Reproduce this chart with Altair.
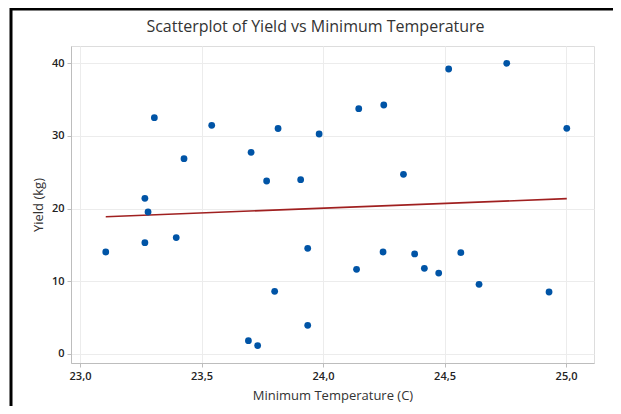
import altair as alt
import pandas as pd

min_temp = [23.106, 23.306, 23.267, 23.280, 23.267, 23.396, 23.428, 23.542,
            23.704, 23.768, 23.815, 23.908, 23.984, 23.937, 23.801, 23.937,
            23.693, 23.731, 24.147, 24.250, 24.517, 24.756, 25.003, 24.331,
            24.138, 24.247, 24.377, 24.417, 24.476, 24.567, 24.642, 24.930]
yield_kg = [14.02, 32.48, 21.4, 19.52, 15.3, 16.0, 26.85, 31.43,
            27.72, 23.78, 31.0, 23.96, 30.24, 14.53, 8.61, 3.94,
            1.83, 1.15, 33.72, 34.23, 39.18, 39.96, 31.02, 24.7,
            11.64, 14.02, 13.75, 11.78, 11.13, 13.93, 9.58, 8.52]
x_ticks = [23.0, 23.5, 24.0, 24.5, 25.0]
y_ticks = [0, 10, 20, 30, 40]
title_text = "Scatterplot of Yield vs Minimum Temperature"

df = pd.DataFrame({"temp": min_temp, "yield": yield_kg})

W, H = 523, 317
FONT = "Open Sans"

xs = alt.Scale(domain=[22.963, 25.115], nice=False, zero=False)
ys = alt.Scale(domain=[-1.24, 42.34], nice=False, zero=False)

x_axis = alt.Axis(values=x_ticks, title="Minimum Temperature (C)",
                  labelExpr="replace(format(datum.value, '.1f'), '.', ',')",
                  grid=True, gridColor="#ececec", domainColor="#bdbdbd",
                  tickColor="#bdbdbd", tickSize=4, labelFontSize=11,
                  labelFontWeight=600, labelColor="#222", labelPadding=3,
                  titleFontSize=13, titleFontWeight="normal", titleColor="#333",
                  titlePadding=8, labelFont=FONT, titleFont=FONT)
y_axis = alt.Axis(values=y_ticks, title="Yield (kg)",
                  grid=True, gridColor="#ececec", domainColor="#bdbdbd",
                  tickColor="#bdbdbd", tickSize=4, labelFontSize=11,
                  labelFontWeight=600, labelColor="#222", labelPadding=3,
                  titleFontSize=13, titleFontWeight="normal", titleColor="#333",
                  titlePadding=6, labelFont=FONT, titleFont=FONT)

base = alt.Chart(df)

points = base.mark_circle(size=46, color="#0054A6", opacity=1).encode(
    x=alt.X("temp:Q", scale=xs, axis=x_axis),
    y=alt.Y("yield:Q", scale=ys, axis=y_axis),
)

line = base.transform_regression("temp", "yield").mark_line(
    color="#A02020", strokeWidth=1.6
).encode(
    x=alt.X("temp:Q", scale=xs),
    y=alt.Y("yield:Q", scale=ys),
)

one = alt.Data(values=[{}])

border = alt.Chart(one).mark_rect(
    fill=None, stroke="black", strokeWidth=3
).encode(
    x=alt.value(-60), x2=alt.value(W + 80),
    y=alt.value(-37), y2=alt.value(H + 80),
)

title = alt.Chart(one).mark_text(
    text=title_text, font=FONT, fontSize=16, color="#333",
    align="center", baseline="middle"
).encode(x=alt.value(W / 2 - 17), y=alt.value(-19))

chart = alt.layer(line, points, border, title).properties(
    width=W, height=H,
    autosize=alt.AutoSizeParams(type="none"),
    padding={"left": 63, "top": 38, "right": 19, "bottom": 43},
).configure_view(stroke="#bdbdbd", strokeWidth=1).configure(background="white")

chart.save("out.html", embed_options={"renderer": "svg", "actions": False})
